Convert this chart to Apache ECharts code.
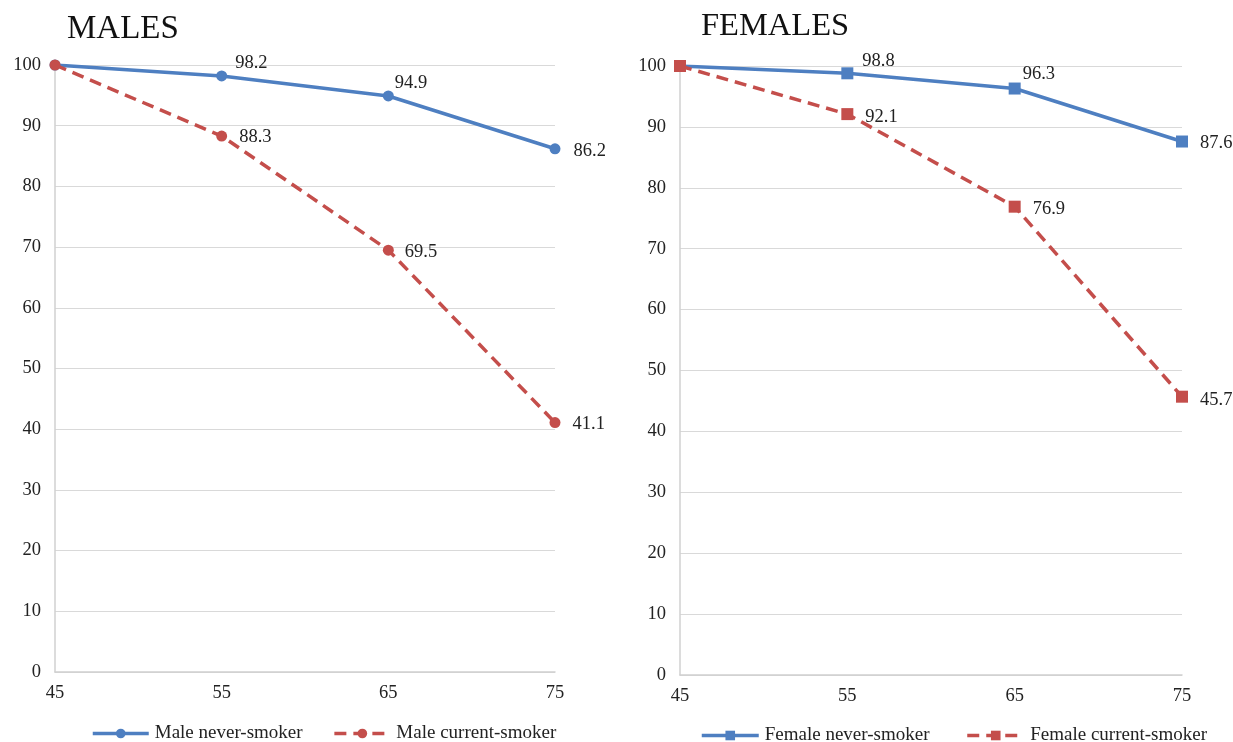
<!DOCTYPE html>
<html><head><meta charset="utf-8">
<script src="https://cdn.jsdelivr.net/npm/echarts@6/dist/echarts.min.js"></script>
<style>html,body{margin:0;padding:0;background:#fff}#c{width:1233px;height:742px}</style>
</head><body><div id="c"></div>
<script>
const ages = ['45','55','65','75'];
const maleNever = [100, 98.2, 94.9, 86.2];
const maleCurrent = [100, 88.3, 69.5, 41.1];
const femaleNever = [100, 98.8, 96.3, 87.6];
const femaleCurrent = [100, 92.1, 76.9, 45.7];

const FONT = 'Liberation Serif';
const BLUE = '#4E7FC1';
const RED = '#C44E4B';
const txt = {fontFamily: FONT, color: '#222', fontSize: 18.5};

// label offsets per point (points 2..4), styling only
function lbl(arr, offs) {
  return arr.map((v,i)=> i===0 ? {value:v, label:{show:false}}
    : {value:v, label:{show:true, position:'right', offset: offs[i-1]}});
}

const chart = echarts.init(document.getElementById('c'));
function xAxis(idx){return {type:'category', gridIndex:idx, data:ages, boundaryGap:false,
  axisLine:{lineStyle:{color:'#d0d0d0', width:1.5}}, axisTick:{show:false},
  axisLabel:Object.assign({margin:12}, txt), splitLine:{show:false}};}
function yAxis(idx){return {type:'value', gridIndex:idx, min:0, max:100, interval:10,
  axisLine:{show:true, lineStyle:{color:'#d0d0d0', width:1.5}}, axisTick:{show:false},
  axisLabel:Object.assign({margin:14}, txt), splitLine:{lineStyle:{color:'#d9d9d9', width:1.2}}};}
const labelBase = {show:true, fontSize:18.5, fontFamily:FONT, color:'#222'};
const legendText = {fontFamily:FONT, fontSize:19, color:'#222', padding:[0,0,0,1]};

chart.setOption({
  animation:false,
  title:[
    {text:'MALES', left:62, top:8, textStyle:{fontFamily:FONT, fontWeight:'normal', fontSize:33, color:'#111'}},
    {text:'FEMALES', left:696, top:5, textStyle:{fontFamily:FONT, fontWeight:'normal', fontSize:32.5, color:'#111'}}
  ],
  grid:[
    {left:55, right:678, top:65, bottom:70},
    {left:680, right:51, top:66, bottom:67}
  ],
  xAxis:[xAxis(0), xAxis(1)],
  yAxis:[yAxis(0), yAxis(1)],
  legend:[
    {data:['Male never-smoker','Male current-smoker'], left:86, top:719, itemWidth:56, itemHeight:12, itemGap:30,
      lineStyle:{width:3.5}, textStyle:legendText},
    {data:['Female never-smoker','Female current-smoker'], left:695, top:721, itemWidth:57, itemHeight:12, itemGap:36,
      lineStyle:{width:3.5}, textStyle:legendText}
  ],
  series:[
    {name:'Male never-smoker', type:'line', xAxisIndex:0, yAxisIndex:0,
      data:lbl(maleNever,[[3,-13],[-4,-13],[8,2]]),
      symbol:'circle', symbolSize:11, lineStyle:{color:BLUE, width:3.5}, itemStyle:{color:BLUE}, label:labelBase, z:3},
    {name:'Male current-smoker', type:'line', xAxisIndex:0, yAxisIndex:0,
      data:lbl(maleCurrent,[[7,1.5],[6,2],[7,2]]),
      symbol:'circle', symbolSize:11, lineStyle:{color:RED, width:3.5, type:[12,7]}, itemStyle:{color:RED}, label:labelBase, z:4},
    {name:'Female never-smoker', type:'line', xAxisIndex:1, yAxisIndex:1,
      data:lbl(femaleNever,[[4,-12],[-3,-14],[7,2]]),
      symbol:'rect', symbolSize:12, lineStyle:{color:BLUE, width:3.5}, itemStyle:{color:BLUE}, label:labelBase, z:3},
    {name:'Female current-smoker', type:'line', xAxisIndex:1, yAxisIndex:1,
      data:lbl(femaleCurrent,[[7,3],[7,2],[7,3]]),
      symbol:'rect', symbolSize:12, lineStyle:{color:RED, width:3.5, type:[12,7]}, itemStyle:{color:RED}, label:labelBase, z:4}
  ]
});
</script></body></html>
